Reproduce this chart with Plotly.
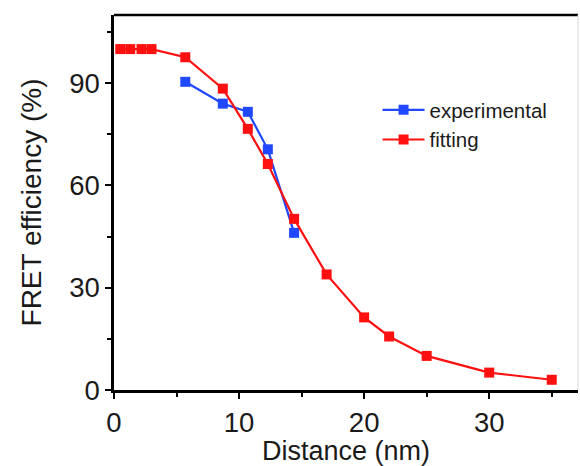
import plotly.graph_objects as go

# FRET efficiency versus donor-acceptor distance
exp_distance = [5.7, 8.7, 10.7, 12.3, 14.4]
exp_efficiency = [90.4, 84.0, 81.6, 70.6, 46.1]

fit_distance = [0.5, 1.3, 2.2, 3.0, 5.7, 8.7, 10.7, 12.3, 14.4, 17.0, 20.0, 22.0, 25.0, 30.0, 35.0]
fit_efficiency = [100.0, 100.0, 100.0, 100.0, 97.6, 88.4, 76.6, 66.3, 50.2, 33.9, 21.3, 15.7, 10.0, 5.1, 3.0]

x_ticks = [0, 10, 20, 30]
y_ticks = [0, 30, 60, 90]

BLUE = "#1f48ff"
RED = "#ff1010"
FONT = "Liberation Sans, Arial, sans-serif"

fig = go.Figure()
fig.add_trace(go.Scatter(
    x=exp_distance, y=exp_efficiency, name="experimental",
    mode="lines+markers",
    line=dict(color=BLUE, width=2.2),
    marker=dict(symbol="square", size=10, color=BLUE),
    cliponaxis=False,
))
fig.add_trace(go.Scatter(
    x=fit_distance, y=fit_efficiency, name="fitting",
    mode="lines+markers",
    line=dict(color=RED, width=2.2),
    marker=dict(symbol="square", size=10, color=RED),
    cliponaxis=False,
))

axis_common = dict(
    showgrid=False, zeroline=False,
    showline=True, linecolor="black", linewidth=2.5,
    ticks="outside", ticklen=6, tickwidth=2, tickcolor="black",
    tickfont=dict(family=FONT, size=27.5, color="#1a1a1a"),
    minor=dict(ticks="outside", ticklen=4, tickwidth=2, tickcolor="black"),
)

fig.update_xaxes(
    range=[0, 37.1], tickvals=x_ticks, ticktext=[str(v) for v in x_ticks],
    minor_tickvals=[5, 15, 25, 35],
    title=dict(text="Distance (nm)", font=dict(family=FONT, size=27, color="#1a1a1a"), standoff=6),
    mirror=False,
    **axis_common,
)
fig.update_yaxes(
    range=[0, 110], tickvals=y_ticks, ticktext=[str(v) for v in y_ticks],
    minor_tickvals=[15, 45, 75, 105],
    title=dict(text="FRET efficiency (%)", font=dict(family=FONT, size=28, color="#1a1a1a"), standoff=20),
    **axis_common,
)

# top frame in black, right frame faint
fig.add_shape(type="line", xref="paper", yref="paper", x0=0, x1=1, y0=1, y1=1,
              line=dict(color="black", width=2.5))
fig.add_shape(type="line", xref="paper", yref="paper", x0=1, x1=1, y0=0, y1=1,
              line=dict(color="#d8d8d8", width=1))

fig.update_layout(
    width=580, height=466,
    margin=dict(l=114, r=2, t=15, b=76),
    paper_bgcolor="white", plot_bgcolor="white",
    showlegend=True,
    legend=dict(
        x=0.568, y=0.80, xanchor="left", yanchor="top",
        bgcolor="rgba(0,0,0,0)", borderwidth=0,
        font=dict(family=FONT, size=20.5, color="#1a1a1a"),
        tracegroupgap=0, itemwidth=42,
    ),
)

fig.write_html("out.html")
